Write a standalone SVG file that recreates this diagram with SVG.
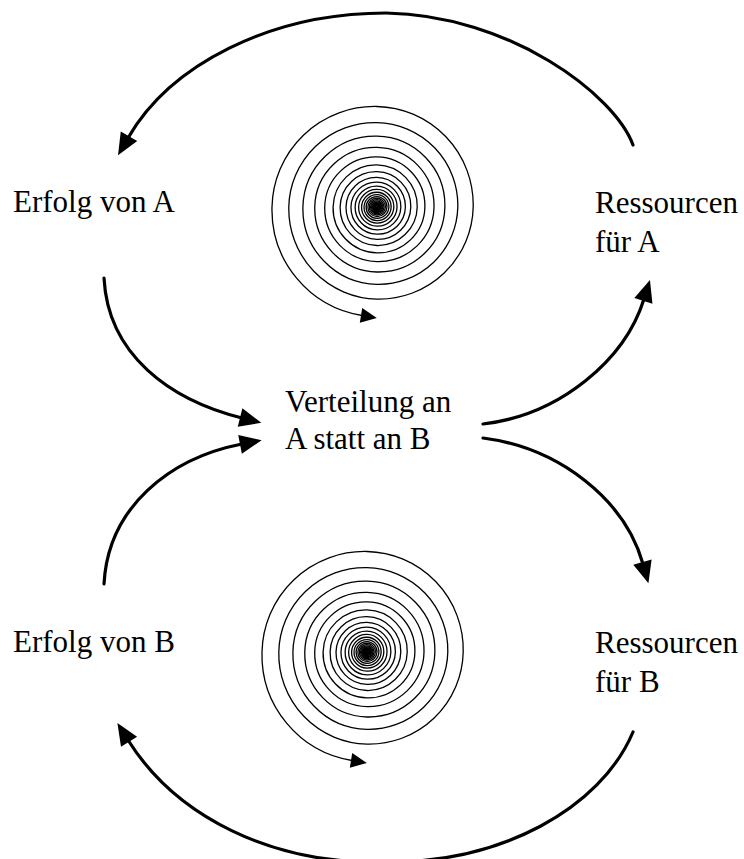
<svg xmlns="http://www.w3.org/2000/svg" xmlns:xlink="http://www.w3.org/1999/xlink" width="744" height="859" viewBox="0 0 744 859">
<style>
.lbl{font-family:"Liberation Serif","Times New Roman",serif;font-size:31px;fill:#000}
.big{fill:none;stroke:#000;stroke-width:3.2;stroke-linecap:round;marker-end:url(#ah)}
.sp{fill:none;stroke:#000;stroke-width:1.3;vector-effect:non-scaling-stroke}
</style>
<defs>
<marker id="ah" markerUnits="userSpaceOnUse" markerWidth="30" markerHeight="30" refX="0" refY="0" orient="auto" overflow="visible">
<path d="M-2,-9.5 L20,0 L-2,9.5 Z" fill="#000"/>
</marker>
<marker id="sah" markerUnits="userSpaceOnUse" markerWidth="20" markerHeight="20" refX="0" refY="0" orient="auto" overflow="visible">
<path d="M-1,-7.5 L15,0 L-1,7.5 Z" fill="#000"/>
</marker>
<path id="turn" class="sp" d="M-105,0 A102.75,102.75 0 0 1 0,-100.5 A98.35,98.35 0 0 1 96.2,0 A94.15,94.15 0 0 1 0,92.1 A90.15,90.15 0 0 1 -88.2,0"/>
<g id="spiral">
<path d="M-105,0 A107,107 0 0 0 -15,108.5" fill="none" stroke="#000" stroke-width="1.3" marker-end="url(#sah)"/>
<use xlink:href="#turn"/>
<use xlink:href="#turn" transform="scale(0.84)"/>
<use xlink:href="#turn" transform="scale(0.7056)"/>
<use xlink:href="#turn" transform="scale(0.5927)"/>
<use xlink:href="#turn" transform="scale(0.4979)"/>
<use xlink:href="#turn" transform="scale(0.4182)"/>
<use xlink:href="#turn" transform="scale(0.3513)"/>
<use xlink:href="#turn" transform="scale(0.2951)"/>
<use xlink:href="#turn" transform="scale(0.2479)"/>
<use xlink:href="#turn" transform="scale(0.2082)"/>
<use xlink:href="#turn" transform="scale(0.1749)"/>
<use xlink:href="#turn" transform="scale(0.1469)"/>
<use xlink:href="#turn" transform="scale(0.1234)"/>
<use xlink:href="#turn" transform="scale(0.1037)"/>
<use xlink:href="#turn" transform="scale(0.0871)"/>
<use xlink:href="#turn" transform="scale(0.0731)"/>
<use xlink:href="#turn" transform="scale(0.0614)"/>
<use xlink:href="#turn" transform="scale(0.0516)"/>
<use xlink:href="#turn" transform="scale(0.0434)"/>
<use xlink:href="#turn" transform="scale(0.0364)"/>
<use xlink:href="#turn" transform="scale(0.0306)"/>
<use xlink:href="#turn" transform="scale(0.0257)"/>
<use xlink:href="#turn" transform="scale(0.0216)"/>
<use xlink:href="#turn" transform="scale(0.0181)"/>
<use xlink:href="#turn" transform="scale(0.0152)"/>
<use xlink:href="#turn" transform="scale(0.0128)"/>
<use xlink:href="#turn" transform="scale(0.0108)"/>
</g>
</defs>
<rect width="744" height="859" fill="#fff"/>
<g id="connectors">
<path class="big" d="M633,145 C615,95 510,15 386,13 C270,13 170,65 128,138"/>
<path class="big" d="M104,278 C108,355 170,400 242,418"/>
<path class="big" d="M104,584 C108,507 170,458 242,444"/>
<path class="big" d="M483,424 C560,415 625,360 644,299"/>
<path class="big" d="M483,438 C560,448 625,500 643,564"/>
<path class="big" d="M633,732 C600,810 500,862 390,862 C270,866 175,815 128,740"/>
</g>
<g id="spiral-a"><use xlink:href="#spiral" transform="translate(377,207)"/></g>
<g id="spiral-b"><use xlink:href="#spiral" transform="translate(367,652)"/></g>
<g id="erfolg-a"><text class="lbl" x="13" y="212">Erfolg von A</text></g>
<g id="ressourcen-a"><text class="lbl" x="595" y="213">Ressourcen</text><text class="lbl" x="595" y="252">für A</text></g>
<g id="verteilung"><text class="lbl" x="285" y="412">Verteilung an</text><text class="lbl" x="285" y="449">A statt an B</text></g>
<g id="erfolg-b"><text class="lbl" x="13" y="652">Erfolg von B</text></g>
<g id="ressourcen-b"><text class="lbl" x="595" y="653">Ressourcen</text><text class="lbl" x="595" y="692">für B</text></g>
</svg>
